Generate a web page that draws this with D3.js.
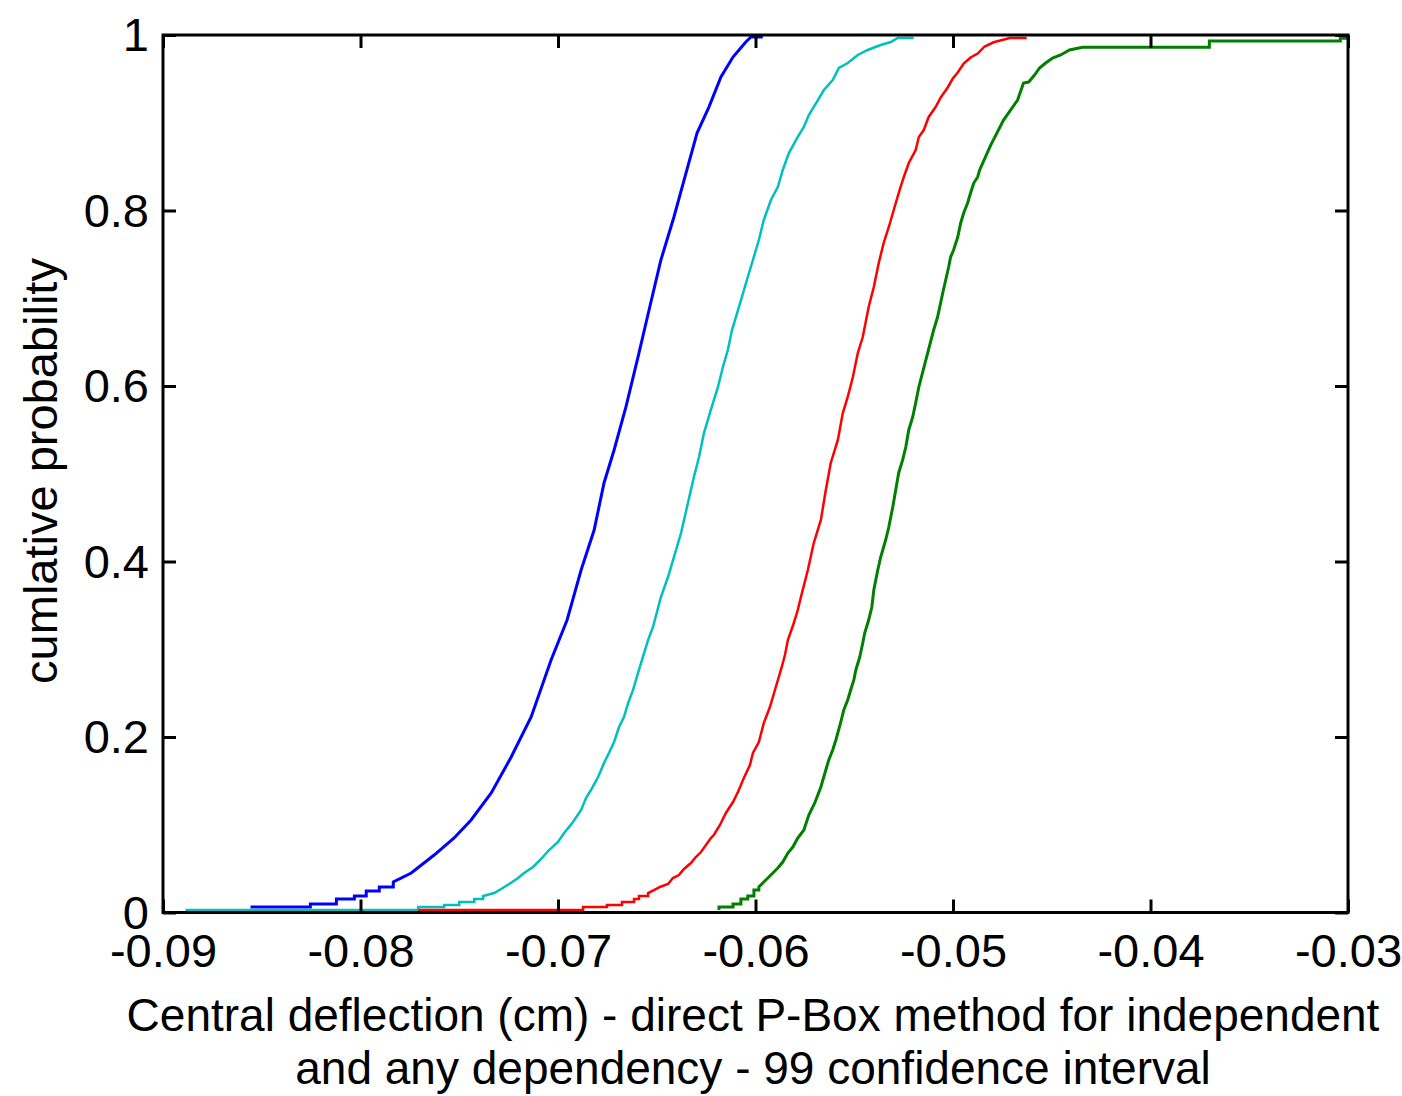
<!DOCTYPE html>
<html>
<head>
<meta charset="utf-8">
<script src="https://cdn.jsdelivr.net/npm/d3@7"></script>
<style>
  body { margin: 0; background: #fff; }
  svg { display: block; }
</style>
</head>
<body>
<div id="main"></div>
<script>
// tick values and labels
const xTicks = [-0.09, -0.08, -0.07, -0.06, -0.05, -0.04, -0.03];
const yTicks = [0, 0.2, 0.4, 0.6, 0.8, 1];
const xLabelLines = [
  "Central deflection (cm) - direct P-Box method for independent",
  "and any dependency - 99 confidence interval"
];
const yLabel = "cumlative probability";

const blueCdf = [
  [-0.08557, 0.0063], [-0.08254, 0.0063], [-0.08254, 0.0097], [-0.08122, 0.0097], [-0.08122, 0.0154],
  [-0.08031, 0.0154], [-0.08031, 0.0188], [-0.07971, 0.0188], [-0.07971, 0.0245], [-0.07905, 0.0245],
  [-0.07905, 0.0291], [-0.07834, 0.0291], [-0.07834, 0.0348], [-0.07743, 0.0450], [-0.07627, 0.0655],
  [-0.07526, 0.0849], [-0.07440, 0.1054], [-0.07338, 0.1362], [-0.07237, 0.1772], [-0.07136, 0.2228],
  [-0.07035, 0.2877], [-0.06954, 0.3333], [-0.06883, 0.3903], [-0.06817, 0.4359], [-0.06767, 0.4895],
  [-0.06716, 0.5271], [-0.06656, 0.5761], [-0.06595, 0.6330], [-0.06539, 0.6866], [-0.06479, 0.7436],
  [-0.06413, 0.7926], [-0.06352, 0.8427], [-0.06296, 0.8883], [-0.06236, 0.9179], [-0.06175, 0.9521],
  [-0.06114, 0.9749], [-0.06049, 0.9920], [-0.06023, 0.9977], [-0.05963, 0.9977]
];
const cyanCdf = [
  [-0.08886, 0.0028], [-0.07708, 0.0028], [-0.07708, 0.0063], [-0.07576, 0.0063], [-0.07576, 0.0085],
  [-0.07500, 0.0085], [-0.07500, 0.0120], [-0.07424, 0.0120], [-0.07424, 0.0154], [-0.07379, 0.0154],
  [-0.07379, 0.0188], [-0.07323, 0.0222], [-0.07288, 0.0268], [-0.07247, 0.0325], [-0.07202, 0.0393],
  [-0.07172, 0.0450], [-0.07126, 0.0519], [-0.07086, 0.0610], [-0.07045, 0.0712], [-0.07000, 0.0803],
  [-0.06969, 0.0906], [-0.06924, 0.1031], [-0.06883, 0.1168], [-0.06858, 0.1305], [-0.06833, 0.1396],
  [-0.06797, 0.1544], [-0.06767, 0.1704], [-0.06742, 0.1818], [-0.06716, 0.1943], [-0.06691, 0.2114],
  [-0.06666, 0.2228], [-0.06645, 0.2387], [-0.06620, 0.2536], [-0.06595, 0.2729], [-0.06570, 0.2912],
  [-0.06544, 0.3105], [-0.06519, 0.3254], [-0.06479, 0.3595], [-0.06443, 0.3823], [-0.06413, 0.4051],
  [-0.06377, 0.4325], [-0.06342, 0.4667], [-0.06312, 0.4963], [-0.06286, 0.5191], [-0.06261, 0.5464],
  [-0.06226, 0.5727], [-0.06190, 0.5989], [-0.06165, 0.6217], [-0.06140, 0.6410], [-0.06119, 0.6638],
  [-0.06084, 0.6900], [-0.06039, 0.7242], [-0.06013, 0.7436], [-0.05983, 0.7664], [-0.05958, 0.7892],
  [-0.05922, 0.8120], [-0.05887, 0.8268], [-0.05862, 0.8462], [-0.05831, 0.8655], [-0.05786, 0.8838],
  [-0.05755, 0.8952], [-0.05730, 0.9088], [-0.05684, 0.9259], [-0.05654, 0.9373], [-0.05609, 0.9487],
  [-0.05578, 0.9624], [-0.05533, 0.9681], [-0.05482, 0.9772], [-0.05432, 0.9829], [-0.05366, 0.9886],
  [-0.05315, 0.9920], [-0.05280, 0.9966], [-0.05199, 0.9966]
];
const redCdf = [
  [-0.07708, 0.0028], [-0.06873, 0.0028], [-0.06873, 0.0063], [-0.06752, 0.0063], [-0.06752, 0.0085],
  [-0.06676, 0.0085], [-0.06676, 0.0120], [-0.06615, 0.0120], [-0.06615, 0.0154], [-0.06590, 0.0154],
  [-0.06590, 0.0188], [-0.06544, 0.0188], [-0.06544, 0.0222], [-0.06514, 0.0256], [-0.06484, 0.0291],
  [-0.06443, 0.0325], [-0.06418, 0.0393], [-0.06388, 0.0427], [-0.06362, 0.0496], [-0.06327, 0.0564],
  [-0.06302, 0.0632], [-0.06276, 0.0689], [-0.06251, 0.0769], [-0.06226, 0.0849], [-0.06211, 0.0883],
  [-0.06180, 0.0997], [-0.06150, 0.1134], [-0.06114, 0.1259], [-0.06089, 0.1373], [-0.06059, 0.1533],
  [-0.06028, 0.1681], [-0.06013, 0.1818], [-0.05983, 0.1943], [-0.05958, 0.2159], [-0.05927, 0.2342],
  [-0.05897, 0.2570], [-0.05867, 0.2798], [-0.05851, 0.2934], [-0.05836, 0.3105], [-0.05806, 0.3299],
  [-0.05786, 0.3447], [-0.05770, 0.3595], [-0.05735, 0.3903], [-0.05705, 0.4211], [-0.05669, 0.4473],
  [-0.05644, 0.4815], [-0.05619, 0.5123], [-0.05583, 0.5385], [-0.05558, 0.5692], [-0.05533, 0.5875],
  [-0.05507, 0.6103], [-0.05482, 0.6376], [-0.05457, 0.6558], [-0.05427, 0.6900], [-0.05401, 0.7128],
  [-0.05376, 0.7402], [-0.05351, 0.7630], [-0.05325, 0.7812], [-0.05300, 0.8006], [-0.05275, 0.8199],
  [-0.05249, 0.8382], [-0.05224, 0.8541], [-0.05189, 0.8689], [-0.05173, 0.8838], [-0.05148, 0.8917],
  [-0.05123, 0.9066], [-0.05088, 0.9179], [-0.05062, 0.9288], [-0.05027, 0.9402], [-0.05001, 0.9504],
  [-0.04976, 0.9573], [-0.04946, 0.9675], [-0.04911, 0.9744], [-0.04875, 0.9789], [-0.04840, 0.9869],
  [-0.04794, 0.9917], [-0.04713, 0.9966], [-0.04627, 0.9966]
];
const greenCdf = [
  [-0.06185, 0.0028], [-0.06185, 0.0063], [-0.06114, 0.0063], [-0.06114, 0.0097], [-0.06074, 0.0097],
  [-0.06074, 0.0154], [-0.06039, 0.0154], [-0.06039, 0.0188], [-0.06008, 0.0188], [-0.06008, 0.0256],
  [-0.05983, 0.0256], [-0.05983, 0.0291], [-0.05958, 0.0348], [-0.05922, 0.0427], [-0.05887, 0.0507],
  [-0.05862, 0.0575], [-0.05836, 0.0678], [-0.05811, 0.0746], [-0.05786, 0.0849], [-0.05755, 0.0940],
  [-0.05730, 0.1111], [-0.05700, 0.1248], [-0.05669, 0.1430], [-0.05644, 0.1624], [-0.05629, 0.1738],
  [-0.05609, 0.1852], [-0.05593, 0.1966], [-0.05568, 0.2171], [-0.05553, 0.2308], [-0.05533, 0.2422],
  [-0.05518, 0.2536], [-0.05502, 0.2650], [-0.05492, 0.2764], [-0.05472, 0.2912], [-0.05457, 0.3071],
  [-0.05447, 0.3185], [-0.05427, 0.3333], [-0.05411, 0.3481], [-0.05401, 0.3675], [-0.05381, 0.3903],
  [-0.05366, 0.4051], [-0.05341, 0.4245], [-0.05325, 0.4393], [-0.05305, 0.4621], [-0.05290, 0.4815],
  [-0.05275, 0.5009], [-0.05255, 0.5157], [-0.05239, 0.5305], [-0.05224, 0.5499], [-0.05204, 0.5647],
  [-0.05189, 0.5806], [-0.05173, 0.5989], [-0.05098, 0.6638], [-0.05078, 0.6786], [-0.05052, 0.7060],
  [-0.05037, 0.7208], [-0.05022, 0.7356], [-0.05012, 0.7470], [-0.04997, 0.7550], [-0.04976, 0.7698],
  [-0.04961, 0.7858], [-0.04946, 0.7972], [-0.04926, 0.8085], [-0.04911, 0.8199], [-0.04895, 0.8313],
  [-0.04875, 0.8382], [-0.04865, 0.8462], [-0.04809, 0.8746], [-0.04744, 0.9031], [-0.04673, 0.9259],
  [-0.04643, 0.9453], [-0.04617, 0.9464], [-0.04587, 0.9544], [-0.04562, 0.9624], [-0.04531, 0.9681],
  [-0.04496, 0.9738], [-0.04455, 0.9772], [-0.04410, 0.9829], [-0.04344, 0.9860], [-0.03702, 0.9860],
  [-0.03702, 0.9932], [-0.03039, 0.9932], [-0.03039, 0.9962], [-0.03000, 0.9962]
];

const seriesList = [
  { name: "blue", values: blueCdf, color: "#0000ff", width: 3 },
  { name: "cyan", values: cyanCdf, color: "#00bfbf", width: 2.5 },
  { name: "red", values: redCdf, color: "#ff0000", width: 2.5 },
  { name: "green", values: greenCdf, color: "#008000", width: 3 }
];

const fontFamily = "'Liberation Sans', Arial, sans-serif";

const box = { left: 163, right: 1348, top: 35, bottom: 912.5 };

const svg = d3.select("#main")
  .append("svg")
  .attr("width", 1402)
  .attr("height", 1096);

const x = d3.scaleLinear().domain([-0.09, -0.03]).range([box.left, box.right]);
const y = d3.scaleLinear().domain([0, 1]).range([box.bottom, box.top]);

const line = d3.line()
  .x(d => x(d[0]))
  .y(d => y(d[1]));

svg.append("g")
  .selectAll("path")
  .data(seriesList)
  .enter()
  .append("path")
  .attr("class", d => "cdf " + d.name)
  .attr("fill", "none")
  .attr("stroke", d => d.color)
  .attr("stroke-width", d => d.width)
  .attr("d", d => line(d.values));

// axes: ticks point inward, labels outside
const fmt = d => String(d);

const bottomAxis = svg.append("g")
  .attr("transform", `translate(0,${box.bottom})`)
  .call(d3.axisBottom(x).tickValues(xTicks).tickSize(-13).tickPadding(22).tickFormat(fmt));

const topAxis = svg.append("g")
  .attr("transform", `translate(0,${box.top})`)
  .call(d3.axisTop(x).tickValues(xTicks).tickSize(-13).tickFormat(""));

const leftAxis = svg.append("g")
  .attr("transform", `translate(${box.left},0)`)
  .call(d3.axisLeft(y).tickValues(yTicks).tickSize(-13).tickPadding(14).tickFormat(fmt));

const rightAxis = svg.append("g")
  .attr("transform", `translate(${box.right},0)`)
  .call(d3.axisRight(y).tickValues(yTicks).tickSize(-13).tickFormat(""));

[bottomAxis, topAxis, leftAxis, rightAxis].forEach(g => {
  g.select(".domain").remove();
  g.attr("font-family", fontFamily).attr("font-size", 47);
  g.selectAll(".tick line").attr("stroke", "#000").attr("stroke-width", 3);
  g.selectAll(".tick text").attr("fill", "#000");
});
leftAxis.selectAll(".tick text").attr("dy", "0.34em");
bottomAxis.selectAll(".tick text").attr("dy", "0.69em");

// frame
svg.append("rect")
  .attr("x", box.left)
  .attr("y", box.top)
  .attr("width", box.right - box.left)
  .attr("height", box.bottom - box.top)
  .attr("fill", "none")
  .attr("stroke", "#000")
  .attr("stroke-width", 3);

// axis titles
svg.append("text")
  .attr("font-family", fontFamily)
  .attr("font-size", 46)
  .attr("text-anchor", "middle")
  .selectAll("tspan")
  .data(xLabelLines)
  .enter()
  .append("tspan")
  .attr("x", 753)
  .attr("y", (d, i) => 1031 + i * 53)
  .text(d => d);

svg.append("text")
  .attr("font-family", fontFamily)
  .attr("font-size", 47)
  .attr("text-anchor", "middle")
  .attr("transform", "translate(57,471) rotate(-90)")
  .text(yLabel);
</script>
</body>
</html>
